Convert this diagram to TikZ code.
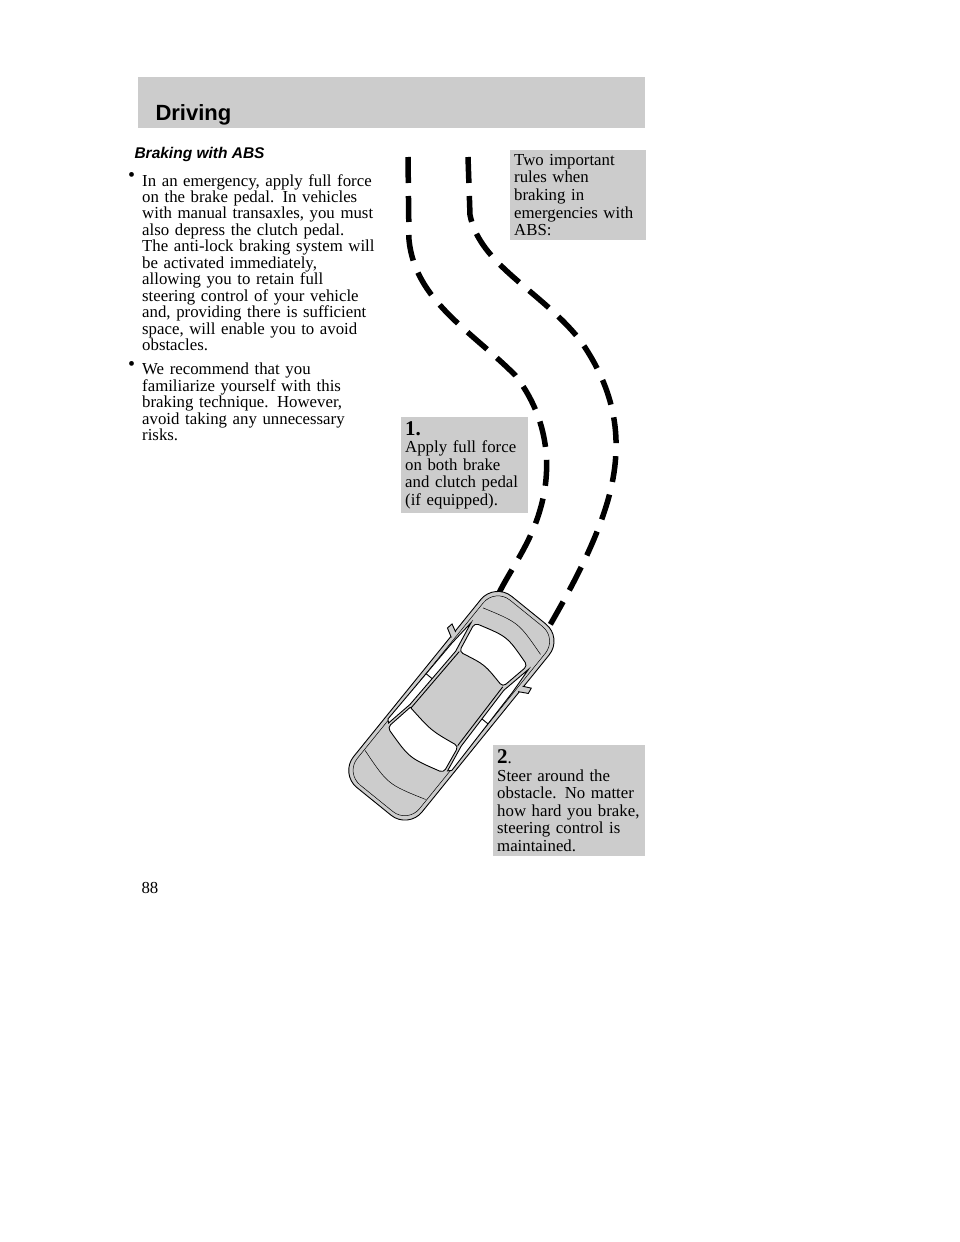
\documentclass[tikz,border=0pt]{standalone}
\usepackage{fontspec}
\setmainfont{Liberation Serif}
\setsansfont{Liberation Sans}
\definecolor{boxg}{HTML}{CCCCCC}
\begin{document}
\begin{tikzpicture}[x=1pt,y=-1pt,
  txt/.style={anchor=north west,inner sep=0pt,font=\fontsize{16.8}{16.45}\selectfont,align=left},
  side/.style={anchor=north west,fill=boxg,inner sep=4pt,font=\fontsize{16.8}{17.6}\selectfont,align=left,text width=#1},
  road/.style={line width=5.5pt,dash pattern=on 26pt off 13pt},
  carl/.style={line width=0.9pt}]
\useasboundingbox (0,0) rectangle (960,1242);
\fill[white] (0,0) rectangle (960,1242);
\fill[boxg] (138,77) rectangle (645,128);
\node[anchor=base west,font=\sffamily\bfseries\fontsize{22}{26}\selectfont] (hd) at (152,120) {Driving};
\node[anchor=base west,font=\sffamily\bfseries\itshape\fontsize{15.5}{18}\selectfont] (sub) at (131,158) {Braking with ABS};
\node[txt,font=\fontsize{20}{18}\selectfont] (b1) at (128,172) {•};
\node[txt,text width=250pt] (t1) at (142,174) {In an emergency, apply full force\\on the brake pedal. In vehicles\\with manual transaxles, you must\\also depress the clutch pedal.\\The anti-lock braking system will\\be activated immediately,\\allowing you to retain full\\steering control of your vehicle\\and, providing there is sufficient\\space, will enable you to avoid\\obstacles.};
\node[txt,font=\fontsize{20}{18}\selectfont] (b2) at (128,361) {•};
\node[txt,text width=250pt] (t2) at (142,363) {We recommend that you\\familiarize yourself with this\\braking technique. However,\\avoid taking any unnecessary\\risks.};
\node[anchor=base west,font=\fontsize{16.8}{18}\selectfont] (pg) at (138,893) {88};
% roads
\draw[road] (408,157) -- (409,240) .. controls (415,300) and (470,330) .. (515,375) .. controls (550,420) and (552,470) .. (540,510) .. controls (530,545) and (510,570) .. (498,595);
\draw[road] (468,157) -- (470,215) .. controls (480,265) and (540,290) .. (580,340) .. controls (615,390) and (625,440) .. (608,500) .. controls (595,545) and (570,590) .. (550,625);
% boxes
\node[side=128pt,minimum height=89pt] (r0) at (510,150) {Two important\\rules when\\braking in\\emergencies with\\ABS:};
\node[side=119pt,minimum height=93pt] (r1) at (401,417) {{\bfseries\fontsize{21}{20}\selectfont 1.}\\Apply full force\\on both brake\\and clutch pedal\\(if equipped).};
% car
\begin{scope}[shift={(452,705)},rotate=51]
\draw[carl,fill=boxg,rounded corners=22pt] (-124,-44) rectangle (122,44);
\draw[line width=0.5pt,rounded corners=19pt] (-120,-40) rectangle (118,40);
% windshield
\draw[carl,fill=white,rounded corners=4pt] (78,-34) .. controls (88,0) .. (78,34) -- (46,28) .. controls (52,0) .. (46,-28) -- cycle;
% roof
\draw[carl] (46,-28) -- (-28,-30) (46,28) -- (-28,30);
% rear window
\draw[carl,fill=white,rounded corners=4pt] (-28,-31) -- (-58,-36) .. controls (-68,0) .. (-58,36) -- (-28,31) .. controls (-33,0) .. (-28,-31);
% side windows
\draw[carl,fill=white] (44,-31) -- (-26,-33) -- (-54,-38) -- (-51,-41) -- (48,-39) -- (76,-37) -- cycle;
\draw[carl,fill=white] (44,31) -- (-26,33) -- (-54,38) -- (-51,41) -- (48,39) -- (76,37) -- cycle;
\draw[carl] (8,-32) -- (8,-40) (8,32) -- (8,40);
% hood/trunk lines
\draw[line width=0.5pt] (95,-37) .. controls (106,0) .. (95,37);
\draw[line width=0.5pt] (-90,-39) .. controls (-102,0) .. (-90,39);
% mirrors
\draw[carl,fill=boxg] (52,-43) -- (57,-52) -- (63,-51) -- (59,-43);
\draw[carl,fill=boxg] (52,43) -- (57,52) -- (63,51) -- (59,43);
\end{scope}
\node[side=144pt,minimum height=111pt] (r2) at (493,745) {{\bfseries\fontsize{21}{20}\selectfont 2}.\\Steer around the\\obstacle. No matter\\how hard you brake,\\steering control is\\maintained.};
\end{tikzpicture}
\end{document}
